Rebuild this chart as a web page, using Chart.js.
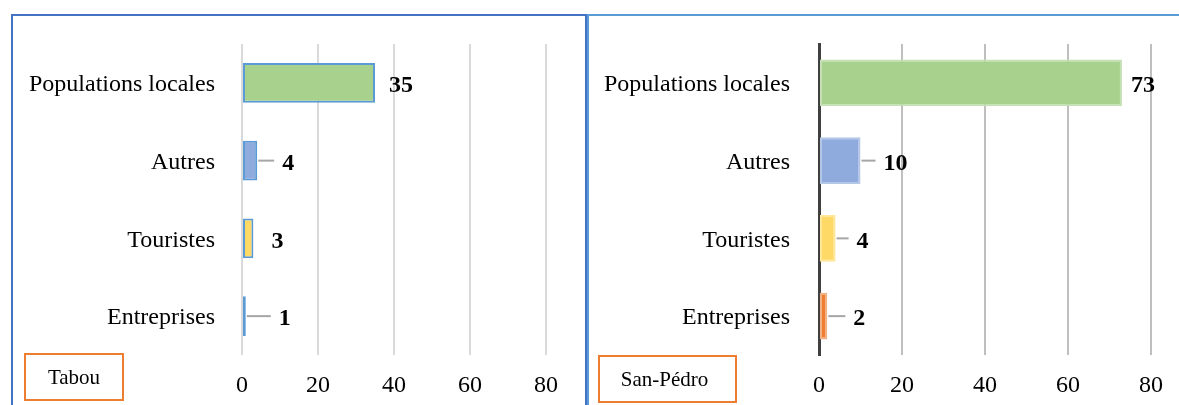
<!DOCTYPE html>
<html>
<head>
<meta charset="utf-8">
<script src="https://cdn.jsdelivr.net/npm/chart.js@4.4.1/dist/chart.umd.min.js"></script>
<style>
  html, body { margin: 0; padding: 0; background: #fff; }
  body { width: 1179px; height: 405px; position: relative; overflow: hidden; font-family: "Liberation Serif", serif; }
  .panel { position: absolute; box-sizing: border-box; }
  #panelLeft { left: 11px; top: 14px; width: 576px; height: 420px; border: 2px solid #4472C4; }
  #panelRight { left: 587px; top: 14px; width: 620px; height: 420px; border: 2px solid #5B9BD5; }
  canvas { position: absolute; top: 0; }
  #tabou { left: 0; }
  #sanpedro { left: 587px; }
  .tag {
    position: absolute; box-sizing: border-box; border: 2px solid #ED7D31;
    font-size: 21px; color: #000; display: flex; align-items: center; justify-content: center;
  }
  #tagLeft { left: 24px; top: 353px; width: 100px; height: 48px; }
  #tagRight { left: 598px; top: 355px; width: 139px; height: 48px; padding-right: 6px; }
</style>
</head>
<body>
<div class="panel" id="panelLeft"></div>
<div class="panel" id="panelRight"></div>
<canvas id="tabou" width="587" height="405"></canvas>
<canvas id="sanpedro" width="592" height="405"></canvas>
<div class="tag" id="tagLeft">Tabou</div>
<div class="tag" id="tagRight">San-Pédro</div>

<script>
const categories = ['Populations locales', 'Autres', 'Touristes', 'Entreprises'];
const tabouValues = [35, 4, 3, 1];
const sanPedroValues = [73, 10, 4, 2];
const xTicks = [0, 20, 40, 60, 80];

const FONT = "'Liberation Serif', 'Times New Roman', serif";

// value labels next to each bar, with a short leader line when pushed away
const valueLabels = {
  id: 'valueLabels',
  afterDatasetsDraw(chart, args, opts) {
    const ctx = chart.ctx;
    const meta = chart.getDatasetMeta(0);
    const data = chart.data.datasets[0].data;
    ctx.save();
    ctx.font = 'bold 24px ' + FONT;
    ctx.fillStyle = '#000';
    ctx.textAlign = 'left';
    ctx.textBaseline = 'middle';
    meta.data.forEach((bar, i) => {
      const gap = opts.gaps[i];
      if (opts.leaders[i]) {
        ctx.strokeStyle = '#A6A6A6';
        ctx.lineWidth = 2;
        ctx.beginPath();
        ctx.moveTo(bar.x + 1, bar.y);
        ctx.lineTo(bar.x + gap - 8, bar.y);
        ctx.stroke();
      }
      ctx.fillText(String(data[i]), bar.x + gap, bar.y + 3);
    });
    ctx.restore();
  }
};

function makeChart(id, values, cfg) {
  return new Chart(document.getElementById(id), {
    type: 'bar',
    data: {
      labels: categories,
      datasets: [{
        data: values,
        backgroundColor: cfg.fill,
        borderColor: cfg.border,
        borderWidth: 2,
        borderSkipped: false,
        categoryPercentage: 1,
        barPercentage: cfg.barPct
      }]
    },
    plugins: [valueLabels],
    options: {
      indexAxis: 'y',
      responsive: false,
      animation: false,
      layout: { padding: { top: 44, right: cfg.padRight, left: 0, bottom: 0 } },
      plugins: {
        legend: { display: false },
        tooltip: { enabled: false },
        valueLabels: { gaps: cfg.gaps, leaders: cfg.leaders }
      },
      scales: {
        x: {
          min: 0,
          max: 80,
          afterBuildTicks: (scale) => { scale.ticks = xTicks.map(v => ({ value: v })); },
          afterFit: (scale) => { scale.height = 50; },
          grid: { color: cfg.gridColor, lineWidth: 2, drawTicks: false },
          border: { display: false },
          ticks: { padding: 16, color: '#000', font: { family: FONT, size: 24 } }
        },
        y: {
          afterFit: (scale) => { scale.width = cfg.axisWidth; },
          grid: { display: false, drawTicks: false },
          border: cfg.yBorder,
          ticks: { padding: cfg.labelPad, labelOffset: 2, color: '#000', font: { family: FONT, size: 24 } }
        }
      }
    }
  });
}

makeChart('tabou', tabouValues, {
  fill: ['#A9D18E', '#8FAADC', '#FFD966', '#8FAADC'],
  border: '#5B9BD5',
  barPct: 0.51,
  padRight: 41,
  axisWidth: 242,
  labelPad: 27,
  gridColor: '#D9D9D9',
  yBorder: { display: false },
  gaps: [14, 25, 18, 33],
  leaders: [false, true, false, true]
});

makeChart('sanpedro', sanPedroValues, {
  fill: ['#A9D18E', '#8FAADC', '#FFD966', '#ED7D31'],
  border: ['#C5E0B4', '#B4C7E7', '#FFE699', '#F4B183'],
  barPct: 0.6,
  padRight: 27,
  axisWidth: 232,
  labelPad: 29,
  gridColor: '#BFBFBF',
  yBorder: { display: true, color: '#404040', width: 3 },
  gaps: [9, 23, 21, 26],
  leaders: [false, true, true, true]
});
</script>
</body>
</html>
